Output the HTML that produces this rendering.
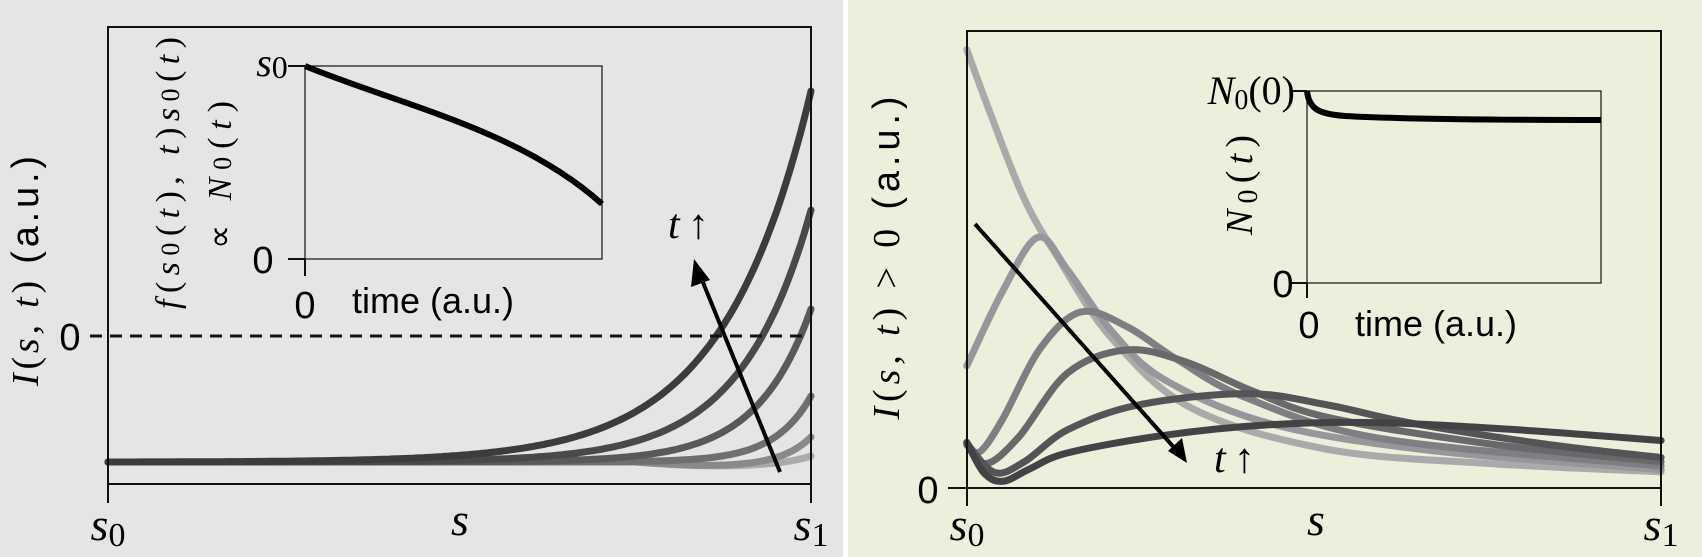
<!DOCTYPE html>
<html><head><meta charset="utf-8"><style>
html,body{margin:0;padding:0;width:1702px;height:557px;overflow:hidden;background:#fff}
svg{display:block}
.m{font-family:"Liberation Serif",serif;font-style:italic}
.r{font-family:"Liberation Serif",serif}
.s{font-family:"Liberation Sans",sans-serif}
</style></head><body>
<svg id="sv" width="1702" height="557" xmlns="http://www.w3.org/2000/svg">
<rect x="0" y="0" width="843" height="557" fill="#e6e4e6"/>
<rect x="848" y="0" width="854" height="557" fill="#ecefdb"/>
<!-- LEFT -->
<g id="lc" fill="none" stroke-width="7" stroke-linecap="round"></g>
<rect x="108" y="27" width="703" height="457" fill="none" stroke="#111" stroke-width="2"/>
<line x1="108" y1="484" x2="108" y2="503" stroke="#111" stroke-width="2"/>
<line x1="811" y1="484" x2="811" y2="503" stroke="#111" stroke-width="2"/>
<line x1="90" y1="336" x2="811" y2="336" stroke="#111" stroke-width="3" stroke-dasharray="12,8"/>
<text x="70" y="350" class="s" font-size="38" text-anchor="middle">0</text>
<text class="m" font-size="46" x="108" y="540" text-anchor="middle">s<tspan class="r" font-style="normal" font-size="34" dy="6">0</tspan></text>
<text class="m" font-size="46" x="460" y="535" text-anchor="middle">s</text>
<text class="m" font-size="46" x="811" y="540" text-anchor="middle">s<tspan class="r" font-style="normal" font-size="34" dy="6">1</tspan></text>
<text transform="translate(38,271) rotate(-90)" text-anchor="middle" font-size="38" textLength="230" lengthAdjust="spacing"><tspan class="m">I</tspan><tspan class="r">(</tspan><tspan class="m">s, t</tspan><tspan class="r">) </tspan><tspan class="s">(a.u.)</tspan></text>
<!-- left inset -->
<rect x="305" y="66" width="297" height="193" fill="none" stroke="#111" stroke-width="1.2"/>
<path d="M305,66 C400,105 520,130 602,204" fill="none" stroke="#000" stroke-width="6"/>
<line x1="288" y1="66" x2="305" y2="66" stroke="#111" stroke-width="2"/>
<line x1="288" y1="259" x2="305" y2="259" stroke="#111" stroke-width="2"/>
<line x1="305" y1="259" x2="305" y2="276" stroke="#111" stroke-width="2"/>
<text class="m" font-size="40" x="272" y="76" text-anchor="middle">s<tspan class="r" font-style="normal" font-size="32" dy="2">0</tspan></text>
<text class="s" font-size="38" x="263" y="273" text-anchor="middle">0</text>
<text class="s" font-size="38" x="305" y="318" text-anchor="middle">0</text>
<text class="s" font-size="36" x="352" y="313">time (a.u.)</text>
<text transform="translate(179,173) rotate(-90)" text-anchor="middle" font-size="34" textLength="272" lengthAdjust="spacing"><tspan class="m">f</tspan><tspan class="r">(</tspan><tspan class="m">s</tspan><tspan class="r" font-size="26">0</tspan><tspan class="r">(</tspan><tspan class="m">t</tspan><tspan class="r">), </tspan><tspan class="m">t</tspan><tspan class="r">)</tspan><tspan class="m">s</tspan><tspan class="r" font-size="26">0</tspan><tspan class="r">(</tspan><tspan class="m">t</tspan><tspan class="r">)</tspan></text>
<text transform="translate(231,175) rotate(-90)" text-anchor="middle" font-size="34" textLength="148" lengthAdjust="spacing"><tspan class="r">∝ </tspan><tspan class="m">N</tspan><tspan class="r" font-size="26">0</tspan><tspan class="r">(</tspan><tspan class="m">t</tspan><tspan class="r">)</tspan></text>
<text class="m" font-size="42" x="668" y="238">t</text><text class="r" font-size="42" x="688" y="238">↑</text>
<line x1="780" y1="472" x2="700" y2="275" stroke="#000" stroke-width="4"/>
<polygon points="694,259 691,287 710,280" fill="#000"/>
<!-- RIGHT -->
<g id="rc" fill="none" stroke-width="7" stroke-linecap="round"></g>
<rect x="967" y="31" width="694" height="457" fill="none" stroke="#111" stroke-width="2"/>
<line x1="948" y1="488" x2="967" y2="488" stroke="#111" stroke-width="2"/>
<line x1="967" y1="488" x2="967" y2="506" stroke="#111" stroke-width="2"/>
<line x1="1661" y1="488" x2="1661" y2="506" stroke="#111" stroke-width="2"/>
<text class="s" font-size="38" x="928" y="503" text-anchor="middle">0</text>
<text class="m" font-size="46" x="967" y="540" text-anchor="middle">s<tspan class="r" font-style="normal" font-size="34" dy="6">0</tspan></text>
<text class="m" font-size="46" x="1316" y="535" text-anchor="middle">s</text>
<text class="m" font-size="46" x="1661" y="540" text-anchor="middle">s<tspan class="r" font-style="normal" font-size="34" dy="6">1</tspan></text>
<text transform="translate(899,258) rotate(-90)" text-anchor="middle" font-size="38" textLength="323" lengthAdjust="spacing"><tspan class="m">I</tspan><tspan class="r">(</tspan><tspan class="m">s, t</tspan><tspan class="r">) &gt; 0 </tspan><tspan class="s">(a.u.)</tspan></text>
<rect x="1307" y="91" width="294" height="192" fill="none" stroke="#111" stroke-width="1.2"/>
<path d="M1307,91 C1309,110 1320,114 1345,116 C1400,119 1500,120 1601,120" fill="none" stroke="#000" stroke-width="6"/>
<line x1="1292" y1="91" x2="1307" y2="91" stroke="#111" stroke-width="2"/>
<line x1="1292" y1="283" x2="1307" y2="283" stroke="#111" stroke-width="2"/>
<line x1="1307" y1="283" x2="1307" y2="298" stroke="#111" stroke-width="2"/>
<text font-size="40" x="1295" y="104" text-anchor="end"><tspan class="m">N</tspan><tspan class="r" font-size="28" dy="5">0</tspan><tspan class="r" dy="-5">(0)</tspan></text>
<text class="s" font-size="38" x="1283" y="297" text-anchor="middle">0</text>
<text class="s" font-size="38" x="1309" y="338" text-anchor="middle">0</text>
<text class="s" font-size="36" x="1355" y="336">time (a.u.)</text>
<text transform="translate(1252,185) rotate(-90)" text-anchor="middle" font-size="38" textLength="100" lengthAdjust="spacing"><tspan class="m">N</tspan><tspan class="r" font-size="28" dy="5">0</tspan><tspan class="r" dy="-5">(</tspan><tspan class="m">t</tspan><tspan class="r">)</tspan></text>
<line x1="975" y1="224" x2="1178" y2="452" stroke="#000" stroke-width="4"/>
<polygon points="1187,463 1168,451 1182,438" fill="#000"/>
<text class="m" font-size="42" x="1214" y="472">t</text><text class="r" font-size="42" x="1234" y="472">↑</text>
</svg>
<script>
var NS="http://www.w3.org/2000/svg";
function add(g,d,c){var p=document.createElementNS(NS,"path");p.setAttribute("d",d);p.setAttribute("stroke",c);document.getElementById(g).appendChild(p);}
var L=[[6,30,"#aaaaab"],[25,26,"#8a888b"],[66,19,"#706e71"],[153,13,"#5a585b"],[252,10,"#4a484b"],[371,8,"#3d3b3e"]];
L.forEach(function(c){var d="";for(var i=0;i<=200;i++){var u=i/200,x=108+703*u;var y=462-c[0]*(Math.exp(c[1]*u)-1)/(Math.exp(c[1])-1);
 if(c[0]<30&&u>0.75){y+=4*Math.sin(Math.PI*(u-0.75)/0.25);}
 d+=(i?"L":"M")+x.toFixed(1)+","+y.toFixed(1);}add("lc",d,c[2]);});
function cr(pts){var P=pts.map(function(p){return[840+p[0]/1.845,p[1]/2.815]});var d="M"+P[0][0].toFixed(1)+","+P[0][1].toFixed(1);
 for(var i=0;i<P.length-1;i++){var p0=P[i-1]||P[i],p1=P[i],p2=P[i+1],p3=P[i+2]||P[i+1];
 d+="C"+(p1[0]+(p2[0]-p0[0])/6).toFixed(1)+","+(p1[1]+(p2[1]-p0[1])/6).toFixed(1)+" "+(p2[0]-(p3[0]-p1[0])/6).toFixed(1)+","+(p2[1]-(p3[1]-p1[1])/6).toFixed(1)+" "+p2[0].toFixed(1)+","+p2[1].toFixed(1);}return d;}
var R=[
[[[234,140],[280,330],[340,560],[400,720],[500,950],[650,1150],[900,1265],[1200,1305],[1515,1328]],"#aaaaab"],
[[[234,1030],[300,820],[365,668],[420,760],[500,930],[600,1070],[800,1195],[1100,1270],[1515,1322]],"#98969a"],
[[[234,1250],[258,1272],[300,1180],[370,980],[445,878],[530,920],[620,1010],[750,1120],[1000,1235],[1515,1312]],"#807e82"],
[[[234,1252],[270,1305],[330,1230],[420,1050],[530,985],[640,1020],[760,1100],[900,1175],[1200,1250],[1515,1300]],"#6a686b"],
[[[234,1248],[285,1330],[340,1300],[420,1210],[550,1140],[750,1108],[900,1140],[1050,1190],[1300,1250],[1515,1288]],"#555356"],
[[[234,1245],[265,1330],[300,1355],[350,1320],[420,1275],[600,1225],[800,1195],[1000,1190],[1250,1210],[1515,1240]],"#444245"]];
R.forEach(function(c){add("rc",cr(c[0]),c[1]);});
</script>
</body></html>
